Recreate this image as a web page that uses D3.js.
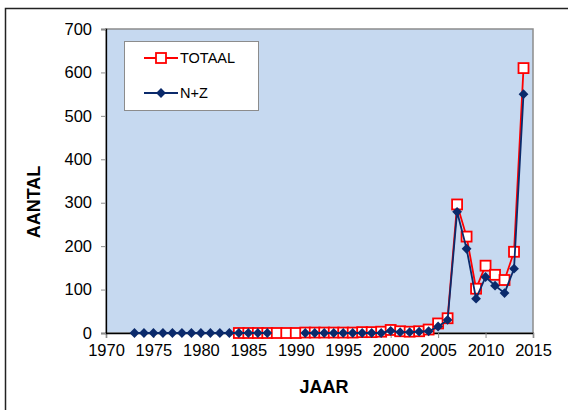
<!DOCTYPE html>
<html>
<head>
<meta charset="utf-8">
<script src="https://cdn.jsdelivr.net/npm/d3@7"></script>
<style>
  html, body { margin: 0; padding: 0; background: #fff; }
  svg { display: block; font-family: "Liberation Sans", Arial, sans-serif; }
</style>
</head>
<body>
<div id="chart"></div>
<script>
// Jaarlijkse aantallen, 1973-2014 (null = geen waarde)
const years = d3.range(1973, 2015);

const totaal = [
  null, null, null, null, null, null, null, null, null, null, null, // 1973-1983
  0, 0, 0, 0, 0, 0, 0,                                              // 1984-1990
  1, 1, 1, 1, 1, 1, 2, 2, 3,                                        // 1991-1999
  7, 4, 3, 4, 8, 22, 34,                                            // 2000-2006
  296, 222, 102, 155, 134, 122, 187, 610                            // 2007-2014
];

const nz = [
  0, 0, 0, 0, 0, 0, 0, 0, 0, 0, 0, 0, 0, 0, 0,                      // 1973-1987
  null, null, null,                                                 // 1988-1990
  0, 0, 0, 0, 0, 0, 0, 0, 0,                                        // 1991-1999
  5, 2, 2, 3, 4, 15, 30,                                            // 2000-2006
  279, 194, 79, 129, 109, 92, 148, 550                              // 2007-2014
];

const xTicks = d3.range(1970, 2016, 5);
const yTicks = d3.range(0, 701, 100);

const seriesNames = ["TOTAAL", "N+Z"];

const width = 568;
const height = 410;

const svg = d3.select("#chart")
  .append("svg")
  .attr("width", width)
  .attr("height", height);

// outer chart frame (runs past the right and bottom edge)
svg.append("rect")
  .attr("x", 5.5).attr("y", 8.5)
  .attr("width", 620).attr("height", 480)
  .attr("fill", "#fff")
  .attr("stroke", "#222")
  .attr("stroke-width", 1.5);

const x = d3.scaleLinear().domain([1970, 2015]).range([106, 533]);
const y = d3.scaleLinear().domain([0, 700]).range([333, 29]);

// plot area
svg.append("rect")
  .attr("x", x(1970)).attr("y", y(700))
  .attr("width", x(2015) - x(1970))
  .attr("height", y(0) - y(700))
  .attr("fill", "#C6D9F0")
  .attr("stroke", "#8c8c8c")
  .attr("stroke-width", 1.5);

// axes
const xAxis = svg.append("g")
  .attr("transform", `translate(0,${y(0)})`)
  .call(d3.axisBottom(x).tickValues(xTicks).tickFormat(d3.format("d")).tickSize(5).tickPadding(6));

const yAxis = svg.append("g")
  .attr("transform", `translate(${x(1970)},0)`)
  .call(d3.axisLeft(y).tickValues(yTicks).tickSize(5).tickPadding(9));

[xAxis, yAxis].forEach((g) => {
  g.select(".domain").attr("stroke", "#000").attr("stroke-width", 1.3);
  g.selectAll(".tick line").attr("stroke", "#8c8c8c");
  g.selectAll(".tick text")
    .attr("fill", "#000")
    .style("font-size", "16.5px")
    .style("font-family", "'Liberation Sans', Arial, sans-serif");
});

// axis titles
svg.append("text")
  .attr("x", 324).attr("y", 393)
  .attr("text-anchor", "middle")
  .style("font-size", "18px").style("font-weight", "bold")
  .text("JAAR");

svg.append("text")
  .attr("transform", "translate(40,202) rotate(-90)")
  .attr("text-anchor", "middle")
  .style("font-size", "18px").style("font-weight", "bold")
  .text("AANTAL");

const line = d3.line()
  .defined((d) => d.v !== null)
  .x((d) => x(d.year))
  .y((d) => y(d.v));

const totData = years.map((yr, i) => ({ year: yr, v: totaal[i] }));
const nzData = years.map((yr, i) => ({ year: yr, v: nz[i] }));

const redColor = "#FF0000";
const blueColor = "#0B2A6B";

// Excel-style diamond: a square turned 45 degrees
const diamond = d3.symbol().type(d3.symbolSquare).size(48);
const sq = 10;

// TOTAAL
svg.append("path")
  .datum(totData)
  .attr("fill", "none")
  .attr("stroke", redColor)
  .attr("stroke-width", 1.8)
  .attr("d", line);

svg.append("g")
  .selectAll("rect")
  .data(totData.filter((d) => d.v !== null))
  .join("rect")
  .attr("x", (d) => x(d.year) - sq / 2)
  .attr("y", (d) => y(d.v) - sq / 2)
  .attr("width", sq).attr("height", sq)
  .attr("fill", "#fff")
  .attr("stroke", redColor)
  .attr("stroke-width", 1.8);

// N+Z
svg.append("path")
  .datum(nzData)
  .attr("fill", "none")
  .attr("stroke", blueColor)
  .attr("stroke-width", 1.8)
  .attr("d", line);

svg.append("g")
  .selectAll("path")
  .data(nzData.filter((d) => d.v !== null))
  .join("path")
  .attr("transform", (d) => `translate(${x(d.year)},${y(d.v)}) rotate(45)`)
  .attr("d", diamond)
  .attr("fill", blueColor);

// legend
const legend = svg.append("g");
legend.append("rect")
  .attr("x", 124.5).attr("y", 41.5)
  .attr("width", 134).attr("height", 69)
  .attr("fill", "#fff")
  .attr("stroke", "#8c8c8c");

const legendRows = [
  { name: seriesNames[0], y: 58, color: redColor, marker: "square" },
  { name: seriesNames[1], y: 93, color: blueColor, marker: "diamond" }
];

legendRows.forEach((r) => {
  legend.append("line")
    .attr("x1", 144).attr("x2", 178)
    .attr("y1", r.y).attr("y2", r.y)
    .attr("stroke", r.color).attr("stroke-width", 1.8);
  if (r.marker === "square") {
    legend.append("rect")
      .attr("x", 161 - sq / 2).attr("y", r.y - sq / 2)
      .attr("width", sq).attr("height", sq)
      .attr("fill", "#fff").attr("stroke", r.color).attr("stroke-width", 1.8);
  } else {
    legend.append("path")
      .attr("transform", `translate(161,${r.y}) rotate(45)`)
      .attr("d", diamond)
      .attr("fill", r.color);
  }
  legend.append("text")
    .attr("x", 180).attr("y", r.y + 5)
    .style("font-size", "14.5px")
    .text(r.name);
});
</script>
</body>
</html>
